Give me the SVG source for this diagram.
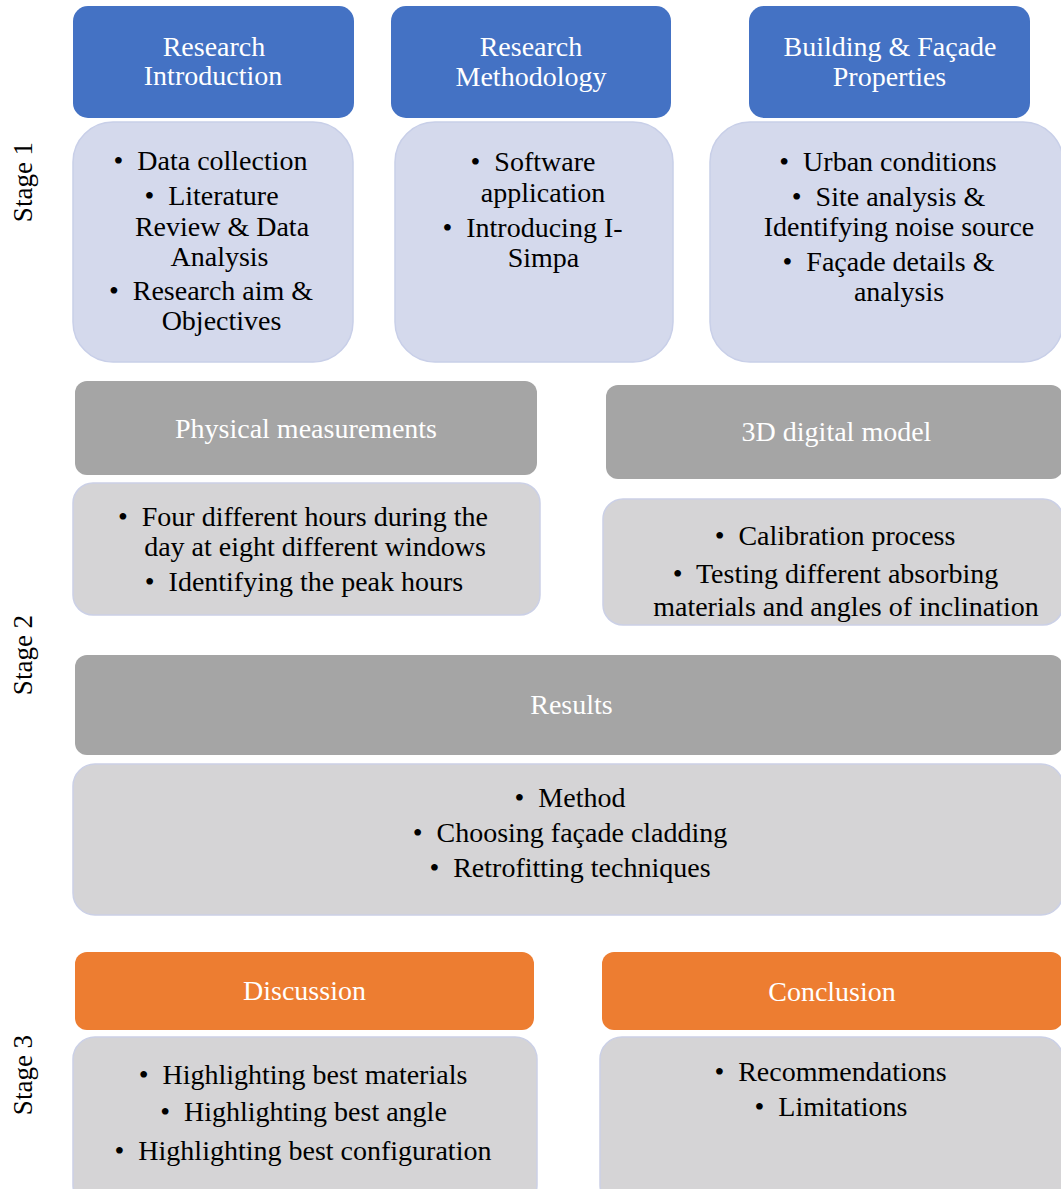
<svg xmlns="http://www.w3.org/2000/svg" width="1061" height="1189" viewBox="0 0 1061 1189">
<style>
text{font-family:"Liberation Serif","Times New Roman",serif;font-size:28px;text-anchor:middle}
.hd{fill:#FFFFFF}
.bd{fill:#000000}
.blue{fill:#4472C4}
.lb{fill:#D4D9EC;stroke:#C8CFE8;stroke-width:1.5}
.gh{fill:#A5A5A5}
.gb{fill:#D5D4D6;stroke:#CBD0E6;stroke-width:1.5}
.or{fill:#ED7D31}
.stage{fill:#000000;font-size:27px}
</style>
<rect width="1061" height="1189" fill="#FFFFFF"/>
<g id="connectors"></g>
<g id="stage1"><text class="stage" transform="translate(32,182) rotate(-90)">Stage 1</text></g>
<g id="stage2"><text class="stage" transform="translate(32,655) rotate(-90)">Stage 2</text></g>
<g id="stage3"><text class="stage" transform="translate(32,1075) rotate(-90)">Stage 3</text></g>

<g id="research-introduction">
<rect class="blue" x="73" y="6" width="281" height="112" rx="15"/>
<text class="hd" x="214" y="56">Research</text>
<text class="hd" x="213" y="85">Introduction</text>
</g>
<g id="research-methodology">
<rect class="blue" x="391" y="6" width="280" height="112" rx="15"/>
<text class="hd" x="531" y="56">Research</text>
<text class="hd" x="531" y="86">Methodology</text>
</g>
<g id="building-facade">
<rect class="blue" x="749" y="6" width="281" height="112" rx="15"/>
<text class="hd" x="890" y="56">Building &amp; Façade</text>
<text class="hd" x="889.5" y="86">Properties</text>
</g>

<g id="intro-body">
<rect class="lb" x="73" y="122" width="280" height="240" rx="40"/>
<text class="bd" x="210.5" y="170">•&#160; Data collection</text>
<text class="bd" x="211.5" y="205">•&#160; Literature</text>
<text class="bd" x="222" y="236">Review &amp; Data</text>
<text class="bd" x="219.5" y="266">Analysis</text>
<text class="bd" x="211" y="300">•&#160; Research aim &amp;</text>
<text class="bd" x="221.5" y="330">Objectives</text>
</g>
<g id="method-body">
<rect class="lb" x="395" y="122" width="278" height="240" rx="40"/>
<text class="bd" x="533" y="171">•&#160; Software</text>
<text class="bd" x="543" y="202">application</text>
<text class="bd" x="532.5" y="237">•&#160; Introducing I-</text>
<text class="bd" x="543.5" y="267">Simpa</text>
</g>
<g id="building-body">
<rect class="lb" x="710" y="122" width="353" height="240" rx="40"/>
<text class="bd" x="888" y="171">•&#160; Urban conditions</text>
<text class="bd" x="888.5" y="206">•&#160; Site analysis &amp;</text>
<text class="bd" x="899" y="236">Identifying noise source</text>
<text class="bd" x="888.5" y="271">•&#160; Façade details &amp;</text>
<text class="bd" x="899" y="301">analysis</text>
</g>

<g id="physical-measurements">
<rect class="gh" x="75" y="381" width="462" height="94" rx="12"/>
<text class="hd" x="306" y="438">Physical measurements</text>
</g>
<g id="physical-body">
<rect class="gb" x="73" y="483" width="467" height="132" rx="20"/>
<text class="bd" x="303" y="526">•&#160; Four different hours during the</text>
<text class="bd" x="315" y="556">day at eight different windows</text>
<text class="bd" x="304" y="591">•&#160; Identifying the peak hours</text>
</g>
<g id="digital-model">
<rect class="gh" x="606" y="385" width="457" height="94" rx="12"/>
<text class="hd" x="836.5" y="441">3D digital model</text>
</g>
<g id="digital-body">
<rect class="gb" x="603" y="499" width="460" height="126" rx="20"/>
<text class="bd" x="835" y="545">•&#160; Calibration process</text>
<text class="bd" x="835.5" y="583">•&#160; Testing different absorbing</text>
<text class="bd" x="846" y="616">materials and angles of inclination</text>
</g>

<g id="results">
<rect class="gh" x="75" y="655" width="988" height="100" rx="12"/>
<text class="hd" x="571.5" y="714">Results</text>
</g>
<g id="results-body">
<rect class="gb" x="73" y="764" width="990" height="151" rx="22"/>
<text class="bd" x="570" y="807">•&#160; Method</text>
<text class="bd" x="570" y="842">•&#160; Choosing façade cladding</text>
<text class="bd" x="570" y="877">•&#160; Retrofitting techniques</text>
</g>

<g id="discussion">
<rect class="or" x="75" y="952" width="459" height="78" rx="12"/>
<text class="hd" x="304.5" y="1000">Discussion</text>
</g>
<g id="discussion-body">
<rect class="gb" x="73" y="1037" width="464" height="170" rx="22"/>
<text class="bd" x="303" y="1084">•&#160; Highlighting best materials</text>
<text class="bd" x="303.5" y="1121">•&#160; Highlighting best angle</text>
<text class="bd" x="303" y="1160">•&#160; Highlighting best configuration</text>
</g>
<g id="conclusion">
<rect class="or" x="602" y="952" width="461" height="78" rx="12"/>
<text class="hd" x="832" y="1001">Conclusion</text>
</g>
<g id="conclusion-body">
<rect class="gb" x="600" y="1037" width="463" height="170" rx="22"/>
<text class="bd" x="830.5" y="1081">•&#160; Recommendations</text>
<text class="bd" x="831" y="1116">•&#160; Limitations</text>
</g>
</svg>
